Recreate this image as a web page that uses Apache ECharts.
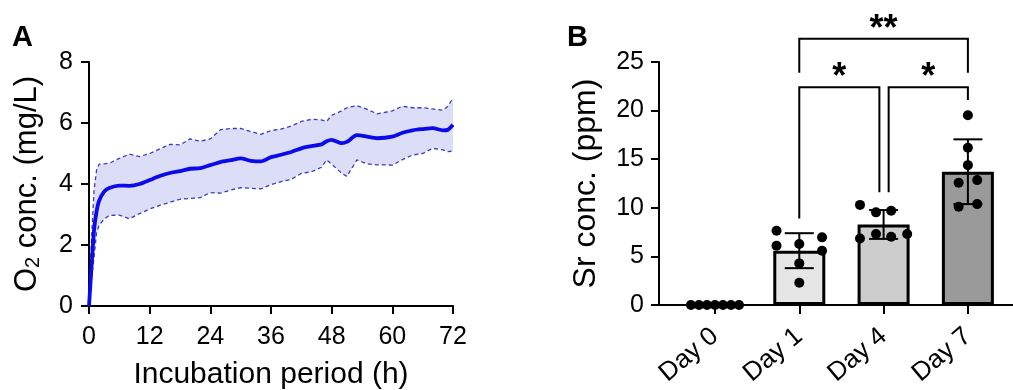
<!DOCTYPE html>
<html>
<head>
<meta charset="utf-8">
<script src="https://cdn.jsdelivr.net/npm/echarts@6/dist/echarts.min.js"></script>
<style>html,body{margin:0;padding:0;background:#fff}#c{width:1013px;height:390px}</style>
</head>
<body>
<div id="c"></div>
<script>
// ---------- Panel A data: O2 concentration over incubation time ----------
const timeH   = [0, 0.5, 1, 1.5, 2, 3, 4, 6, 8, 10, 12, 14, 16, 18, 20, 22, 24, 26, 28, 30, 32, 34, 36, 38, 40, 42, 44, 46, 47, 48, 50, 51, 53, 55, 57, 60, 62, 64, 66, 68, 70, 71, 72];
const o2Mean  = [0, 1.3, 2.5, 3.1, 3.45, 3.75, 3.87, 3.95, 3.94, 4.0, 4.13, 4.26, 4.36, 4.42, 4.5, 4.52, 4.62, 4.72, 4.78, 4.84, 4.76, 4.74, 4.88, 4.96, 5.05, 5.17, 5.24, 5.3, 5.4, 5.45, 5.34, 5.38, 5.6, 5.55, 5.5, 5.55, 5.68, 5.76, 5.8, 5.83, 5.76, 5.78, 5.94];
const o2Upper = [0, 2.2, 3.8, 4.45, 4.65, 4.66, 4.68, 4.84, 4.98, 4.9, 5.0, 5.15, 5.3, 5.28, 5.48, 5.4, 5.48, 5.78, 5.82, 5.82, 5.72, 5.63, 5.75, 5.8, 5.9, 6.05, 6.12, 6.1, 6.05, 6.25, 6.4, 6.5, 6.57, 6.45, 6.3, 6.4, 6.55, 6.5, 6.5, 6.46, 6.42, 6.55, 6.82];
const o2Lower = [0, 0.9, 1.6, 2.4, 2.65, 2.85, 2.97, 2.98, 2.86, 3.03, 3.18, 3.3, 3.4, 3.5, 3.53, 3.55, 3.72, 3.7, 3.8, 3.88, 3.86, 3.84, 3.98, 4.08, 4.15, 4.35, 4.4, 4.55, 4.79, 4.65, 4.35, 4.25, 4.79, 4.66, 4.63, 4.62, 4.8, 4.95, 5.0, 5.17, 5.12, 5.06, 5.08];

// ---------- Panel B data: Sr concentration ----------
const categories = ['Day 0', 'Day 1', 'Day 4', 'Day 7'];
const srDay0 = [0, 0, 0, 0, 0, 0, 0];
const srDay1 = [7.64, 6.1, 6.27, 6.96, 5.58, 4.28, 2.29];
const srDay4 = [10.3, 9.53, 9.69, 6.85, 7.3, 7.02, 7.3];
const srDay7 = [19.53, 16.17, 14.39, 12.57, 12.85, 10.1, 10.38];
const barColors = ['#ffffff', '#e6e6e6', '#cdcdcd', '#9a9a9a'];
// significance brackets: [from, to, label]
const sigPairs = [[1, 3, '**'], [1, 2, '*'], [2, 3, '*']];

// ---------- layout constants (not data) ----------
const F = '"Liberation Sans", Arial, Helvetica, sans-serif';
const jitter = [
  [-0.285, -0.19, -0.095, 0, 0.095, 0.19, 0.285],
  [-0.27, -0.27, 0, 0.27, 0.27, 0, 0],
  [-0.28, -0.09, 0.09, -0.28, -0.09, 0.09, 0.28],
  [0, 0, 0, -0.11, 0.11, -0.11, 0.11]
];
// bracket geometry in data units: [x1, x2, top, leg1End, leg2End, labelX]
const bracketGeom = [
  [1, 3, 27.4, 23.9, 23.9, 2.0],
  [1, 1.95, 22.4, 8.9, 11.6, 1.475],
  [2.06, 3, 22.4, 11.6, 21.1, 2.53]
];

const groups = [srDay0, srDay1, srDay4, srDay7];
const stats = groups.map(g => {
  const n = g.length;
  const m = g.reduce((a, b) => a + b, 0) / n;
  const sd = Math.sqrt(g.reduce((a, b) => a + (b - m) * (b - m), 0) / (n - 1));
  return [m, sd];
});

const zip = (xs, ys) => xs.map((x, i) => [x, ys[i]]);
const axisLineStyle = { color: '#000', width: 2 };

const chart = echarts.init(document.getElementById('c'), null, { renderer: 'canvas' });
const option = {
  animation: false,
  backgroundColor: '#fff',
  title: [
    { text: 'A', left: 12, top: 23, padding: 0, textStyle: { fontSize: 29, fontWeight: 'bold', fontFamily: F, color: '#000' } },
    { text: 'B', left: 567, top: 23, padding: 0, textStyle: { fontSize: 29, fontWeight: 'bold', fontFamily: F, color: '#000' } }
  ],
  grid: [
    { left: 89, right: 560, top: 62, bottom: 84, outerBoundsMode: 'none' },
    { left: 659, right: 0, top: 62, bottom: 85, outerBoundsMode: 'none' }
  ],
  xAxis: [
    {
      gridIndex: 0, type: 'value', min: 0, max: 72, interval: 12,
      name: 'Incubation period (h)', nameLocation: 'middle', nameGap: 54,
      nameTextStyle: { fontSize: 30, fontFamily: F, color: '#000' },
      axisLine: { lineStyle: axisLineStyle },
      axisTick: { length: 8, lineStyle: axisLineStyle },
      axisLabel: { fontSize: 25, fontFamily: F, color: '#000', margin: 19 },
      splitLine: { show: false }
    },
    {
      gridIndex: 1, type: 'value', min: -0.664, max: 3.535,
      axisLine: { onZero: false, lineStyle: axisLineStyle },
      axisTick: { customValues: [0, 1, 2, 3], length: 9, lineStyle: axisLineStyle },
      axisLabel: {
        customValues: [0, 1, 2, 3], rotate: 40, margin: 28,
        fontSize: 26, fontFamily: F, color: '#000',
        formatter: v => categories[Math.round(v)]
      },
      splitLine: { show: false }
    }
  ],
  yAxis: [
    {
      gridIndex: 0, type: 'value', min: 0, max: 8, interval: 2,
      name: '{n|O}{s|2}{n| conc. (mg/L)}', nameLocation: 'middle', nameGap: 46, nameRotate: 90,
      nameTextStyle: {
        fontFamily: F, color: '#000', fontSize: 31,
        rich: {
          n: { fontSize: 31, fontFamily: F, color: '#000', lineHeight: 31 },
          s: { fontSize: 20, fontFamily: F, color: '#000', lineHeight: 20, padding: [12, 0, 0, 0] }
        }
      },
      axisLine: { show: true, onZero: false, lineStyle: axisLineStyle },
      axisTick: { show: true, length: 8, lineStyle: axisLineStyle },
      axisLabel: { fontSize: 25, fontFamily: F, color: '#000', margin: 16 },
      splitLine: { show: false }
    },
    {
      gridIndex: 1, type: 'value', min: 0, max: 25, interval: 5,
      name: 'Sr conc. (ppm)', nameLocation: 'middle', nameGap: 57, nameRotate: 90,
      nameTextStyle: { fontFamily: F, color: '#000', fontSize: 32 },
      axisLine: { show: true, onZero: false, lineStyle: axisLineStyle },
      axisTick: { show: true, length: 8, lineStyle: axisLineStyle },
      axisLabel: { fontSize: 25, fontFamily: F, color: '#000', margin: 15 },
      splitLine: { show: false }
    }
  ],
  series: [
    // SD band
    {
      type: 'custom', xAxisIndex: 0, yAxisIndex: 0, silent: true, z: 1,
      data: [[0, 0]],
      renderItem: (params, api) => {
        const pts = [];
        for (let i = 0; i < timeH.length; i++) pts.push(api.coord([timeH[i], o2Upper[i]]));
        for (let i = timeH.length - 1; i >= 0; i--) pts.push(api.coord([timeH[i], o2Lower[i]]));
        return { type: 'polygon', shape: { points: pts }, style: { fill: '#dcddf7', stroke: null } };
      }
    },
    {
      type: 'line', xAxisIndex: 0, yAxisIndex: 0, data: zip(timeH, o2Upper), symbol: 'none', z: 2,
      lineStyle: { color: '#3c3cbe', width: 1.3, type: [4, 3] }
    },
    {
      type: 'line', xAxisIndex: 0, yAxisIndex: 0, data: zip(timeH, o2Lower), symbol: 'none', z: 2,
      lineStyle: { color: '#3c3cbe', width: 1.3, type: [4, 3] }
    },
    {
      type: 'line', xAxisIndex: 0, yAxisIndex: 0, data: zip(timeH, o2Mean), symbol: 'none', z: 3, smooth: 0.25,
      lineStyle: { color: '#0a0aea', width: 3.8 }
    },
    // bars (means)
    {
      type: 'bar', xAxisIndex: 1, yAxisIndex: 1, barWidth: 52, z: 2,
      data: stats.map((s, i) => ({ value: [i, s[0]], itemStyle: { color: barColors[i], borderColor: '#000', borderWidth: 3 } }))
    },
    // error bars (SD)
    {
      type: 'custom', xAxisIndex: 1, yAxisIndex: 1, z: 3, silent: true,
      data: stats.map((s, i) => [i, s[0], s[1]]),
      renderItem: (params, api) => {
        const x = api.value(0), m = api.value(1), sd = api.value(2);
        if (sd <= 0) return null;
        const top = api.coord([x, m + sd]);
        const bot = api.coord([x, m - sd]);
        const st = { stroke: '#000', lineWidth: 2, fill: null };
        return {
          type: 'group', children: [
            { type: 'line', shape: { x1: top[0], y1: top[1], x2: bot[0], y2: bot[1] }, style: st },
            { type: 'line', shape: { x1: top[0] - 14.5, y1: top[1], x2: top[0] + 14.5, y2: top[1] }, style: st },
            { type: 'line', shape: { x1: bot[0] - 14.5, y1: bot[1], x2: bot[0] + 14.5, y2: bot[1] }, style: st }
          ]
        };
      }
    },
    // individual points
    {
      type: 'scatter', xAxisIndex: 1, yAxisIndex: 1, z: 4, symbol: 'circle', symbolSize: 10,
      itemStyle: { color: '#000', opacity: 1 },
      data: groups.flatMap((g, i) => g.map((v, k) => [i + jitter[i][k], v]))
    },
    // significance brackets
    {
      type: 'custom', xAxisIndex: 1, yAxisIndex: 1, z: 5, silent: true, clip: false,
      data: sigPairs.map((p, i) => [i]),
      renderItem: (params, api) => {
        const i = params.dataIndex;
        const g = bracketGeom[i];
        const p1 = api.coord([g[0], g[3]]);
        const p2 = api.coord([g[0], g[2]]);
        const p3 = api.coord([g[1], g[2]]);
        const p4 = api.coord([g[1], g[4]]);
        const lp = api.coord([g[5], g[2]]);
        return {
          type: 'group', children: [
            { type: 'polyline', shape: { points: [p1, p2, p3, p4] }, style: { stroke: '#000', lineWidth: 2, fill: null } },
            { type: 'text', x: lp[0], y: lp[1] - 9, style: { text: sigPairs[i][2], fill: '#000', font: 'bold 36px ' + F, align: 'center', verticalAlign: 'middle' } }
          ]
        };
      }
    }
  ]
};
chart.setOption(option);
</script>
</body>
</html>
